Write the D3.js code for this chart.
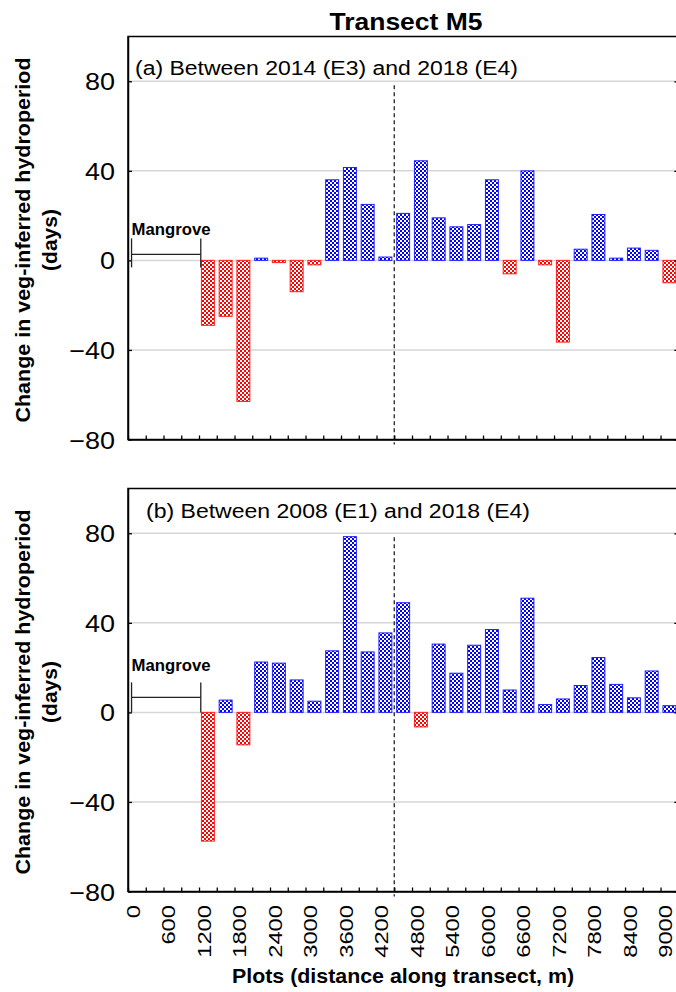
<!DOCTYPE html>
<html>
<head>
<meta charset="utf-8">
<script src="https://cdn.jsdelivr.net/npm/d3@7"></script>
<style>
  body { margin: 0; background: #fff; }
  text { font-family: "Liberation Sans", Arial, sans-serif; fill: #000; }
</style>
</head>
<body>
<div id="chart"></div>
<script>
var width = 676;
var height = 992;

// plot start (m) of each 300 m plot along the transect
var plots = [1200, 1500, 1800, 2100, 2400, 2700, 3000, 3300, 3600, 3900, 4200, 4500, 4800, 5100,
  5400, 5700, 6000, 6300, 6600, 6900, 7200, 7500, 7800, 8100, 8400, 8700, 9000];

// change in hydroperiod (days), E3 -> E4
var changeA = [-29, -25, -63, 1, -1, -14, -2, 36, 41.5, 25, 1.5, 21, 44.5, 19, 15, 16, 36, -6,
  40, -2, -36.5, 5, 20.5, 1, 5.5, 4.5, -10];

// change in hydroperiod (days), E1 -> E4
var changeB = [-57.5, 5.5, -14.5, 22.5, 22, 14.5, 5, 27.5, 78.5, 27, 35.5, 49, -6.5, 30.5, 17.5,
  30, 37, 10, 51, 3.5, 6, 12, 24.5, 12.5, 6.5, 18.5, 3];

var panelTitles = ["(a) Between 2014 (E3) and 2018 (E4)", "(b) Between 2008 (E1) and 2018 (E4)"];
var yTicks = [-80, -40, 0, 40, 80];
var gridTicks = [-40, 0, 40, 80];
var xLabels = [0, 600, 1200, 1800, 2400, 3000, 3600, 4200, 4800, 5400, 6000, 6600, 7200, 7800, 8400, 9000];
var mangrove = [60, 1230];
var dividerAt = 4500;

var left = 128, right = 678.3, plotH = 403;
var panelTop = [36.5, 488.5];

var svg = d3.select("#chart").append("svg")
  .attr("width", width)
  .attr("height", height);

// checker fills
var defs = svg.append("defs");
[["chkRed", "#ff0000"], ["chkBlue", "#0000ff"]].forEach(function (p) {
  var pat = defs.append("pattern")
    .attr("id", p[0])
    .attr("width", 4).attr("height", 4)
    .attr("patternUnits", "userSpaceOnUse");
  pat.append("rect").attr("width", 4).attr("height", 4).attr("fill", p[1]);
  pat.append("rect").attr("x", 0).attr("y", 0).attr("width", 2).attr("height", 2).attr("fill", "#fff");
  pat.append("rect").attr("x", 2).attr("y", 2).attr("width", 2).attr("height", 2).attr("fill", "#fff");
});

var x = d3.scaleLinear().domain([0, 9300]).range([left, right]);

function stretch(sel, f) {
  sel.each(function () {
    var n = this.getComputedTextLength();
    d3.select(this).attr("textLength", n * f).attr("lengthAdjust", "spacingAndGlyphs");
  });
}

var panelCfg = [
  { values: changeA, titleY: 75, titleX: 135, titleLen: 383, brk: { line: -6, t0: -22, t1: 7, txt: -25 } },
  { values: changeB, titleY: 518, titleX: 146, titleLen: 384, brk: { line: -15, t0: -30, t1: 0, txt: -41 } }
];

panelCfg.forEach(function (cfg, i) {
  var top = panelTop[i];
  var bottom = top + plotH;
  var y = d3.scaleLinear().domain([-80, 100]).range([bottom, top]);
  var g = svg.append("g");

  // grid lines
  g.selectAll(".grid")
    .data(gridTicks)
    .enter()
    .append("line")
    .attr("x1", left).attr("x2", right)
    .attr("y1", function (d) { return y(d); })
    .attr("y2", function (d) { return y(d); })
    .attr("stroke", "#d6d6d6")
    .attr("stroke-width", 1.5);

  // bars
  var step = x(300) - x(0);
  g.selectAll(".bar")
    .data(plots)
    .enter()
    .append("rect")
    .attr("x", function (d) { return x(d) + 2.4; })
    .attr("width", step - 4.8)
    .attr("y", function (d, j) { return y(Math.max(cfg.values[j], 0)); })
    .attr("height", function (d, j) { return Math.abs(y(cfg.values[j]) - y(0)); })
    .attr("fill", function (d, j) { return cfg.values[j] < 0 ? "url(#chkRed)" : "url(#chkBlue)"; })
    .attr("stroke", function (d, j) { return cfg.values[j] < 0 ? "#ff2020" : "#2020ff"; })
    .attr("stroke-width", 1);

  // divider
  g.append("line")
    .attr("x1", x(dividerAt)).attr("x2", x(dividerAt))
    .attr("y1", y(80) + 4).attr("y2", bottom + 5)
    .attr("stroke", "#333")
    .attr("stroke-width", 1.4)
    .attr("stroke-dasharray", "4,3");

  // frame
  g.append("rect")
    .attr("x", left).attr("y", top)
    .attr("width", right - left).attr("height", plotH)
    .attr("fill", "none")
    .attr("stroke", "#000")
    .attr("stroke-width", 1.5);

  // y axis
  var yAxis = g.append("g")
    .attr("transform", "translate(" + left + ",0)")
    .call(d3.axisLeft(y).tickValues(yTicks).tickSizeInner(-4).tickSizeOuter(0).tickPadding(13));
  yAxis.select(".domain").attr("stroke-width", 1.5);
  yAxis.selectAll("line").attr("stroke-width", 1.3);
  yAxis.selectAll("text")
    .attr("font-size", "23.7px")
    .attr("font-family", "Liberation Sans, Arial, sans-serif")
    .attr("dy", "0.36em")
    .call(stretch, 1.14);

  g.append("g")
    .attr("transform", "translate(" + right + ",0)")
    .call(d3.axisRight(y).tickValues(yTicks).tickSizeInner(-4).tickSizeOuter(0).tickFormat(""))
    .selectAll("line").attr("stroke-width", 1.3);

  // x axis ticks
  var xAxis = g.append("g")
    .attr("transform", "translate(0," + bottom + ")")
    .call(d3.axisBottom(x).tickValues(d3.range(0, 9301, 300)).tickSizeInner(-4).tickSizeOuter(0).tickFormat(""));
  xAxis.select(".domain").attr("stroke-width", 1.5);
  xAxis.selectAll("line").attr("stroke-width", 1.3);

  if (i === 1) {
    g.selectAll(".xlab")
      .data(xLabels)
      .enter()
      .append("text")
      .attr("transform", function (d) {
        return "translate(" + (x(d) + 11.6) + "," + (bottom + 13.5) + ") rotate(-90)";
      })
      .attr("text-anchor", "end")
      .attr("font-size", "18px")
      .attr("textLength", function (d) { return String(d).length * 13.2; })
      .attr("lengthAdjust", "spacingAndGlyphs")
      .text(function (d) { return d; });
  }

  // panel caption
  g.append("text")
    .attr("x", cfg.titleX).attr("y", cfg.titleY)
    .attr("font-size", "20px")
    .attr("textLength", cfg.titleLen)
    .attr("lengthAdjust", "spacingAndGlyphs")
    .text(panelTitles[i]);

  // mangrove bracket
  var y0 = y(0);
  var b = cfg.brk;
  g.append("line")
    .attr("x1", x(mangrove[0])).attr("x2", x(mangrove[1]))
    .attr("y1", y0 + b.line).attr("y2", y0 + b.line)
    .attr("stroke", "#222").attr("stroke-width", 1.3);
  mangrove.forEach(function (m) {
    g.append("line")
      .attr("x1", x(m)).attr("x2", x(m))
      .attr("y1", y0 + b.t0).attr("y2", y0 + b.t1)
      .attr("stroke", "#222").attr("stroke-width", 1.3);
  });
  g.append("text")
    .attr("x", x(mangrove[0])).attr("y", y0 + b.txt)
    .attr("font-size", "16px")
    .attr("font-weight", "bold")
    .attr("fill", "#222")
    .attr("textLength", 79)
    .attr("lengthAdjust", "spacingAndGlyphs")
    .text("Mangrove");

  // y axis title
  var cy = (top + bottom) / 2 + 2;
  g.append("text")
    .attr("transform", "translate(30," + cy + ") rotate(-90)")
    .attr("text-anchor", "middle")
    .attr("font-size", "21px")
    .attr("font-weight", "bold")
    .attr("textLength", 365)
    .attr("lengthAdjust", "spacingAndGlyphs")
    .text("Change in veg-inferred hydroperiod");
  g.append("text")
    .attr("transform", "translate(57," + cy + ") rotate(-90)")
    .attr("text-anchor", "middle")
    .attr("font-size", "21px")
    .attr("font-weight", "bold")
    .text("(days)");
});

// chart title
svg.append("text")
  .attr("x", 406).attr("y", 30)
  .attr("text-anchor", "middle")
  .attr("font-size", "23.5px")
  .attr("font-weight", "bold")
  .attr("textLength", 153)
  .attr("lengthAdjust", "spacingAndGlyphs")
  .text("Transect M5");

// x axis title
svg.append("text")
  .attr("x", 403).attr("y", 983)
  .attr("text-anchor", "middle")
  .attr("font-size", "21px")
  .attr("font-weight", "bold")
  .attr("textLength", 342)
  .attr("lengthAdjust", "spacingAndGlyphs")
  .text("Plots (distance along transect, m)");
</script>
</body>
</html>
